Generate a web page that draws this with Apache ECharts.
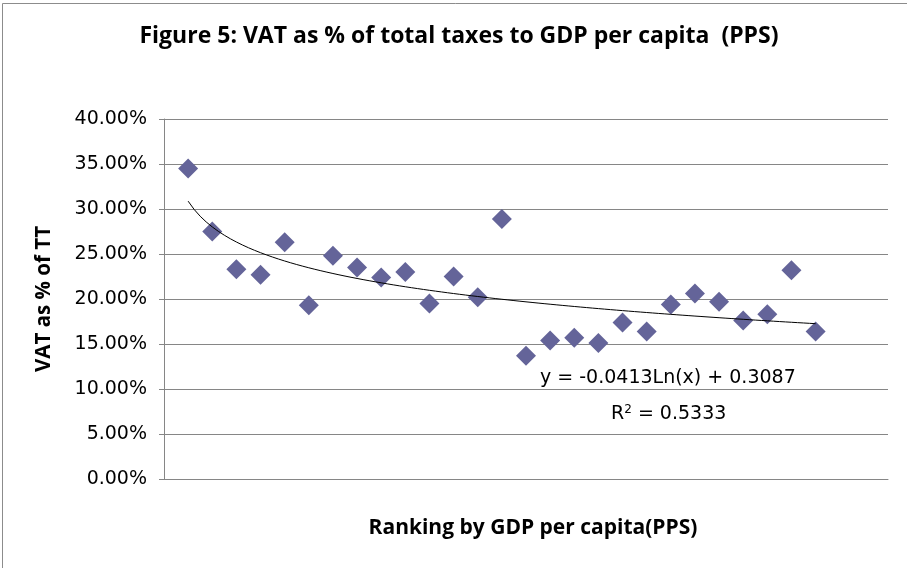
<!DOCTYPE html>
<html>
<head>
<meta charset="utf-8">
<script src="https://cdn.jsdelivr.net/npm/echarts@6/dist/echarts.min.js"></script>
<style>
  html, body { margin: 0; padding: 0; background: #fff; }
  #chart { width: 907px; height: 568px; }
</style>
</head>
<body>
<div id="chart"></div>
<script>
// Ranking positions (1 = highest GDP per capita in PPS)
const ranks = [1, 2, 3, 4, 5, 6, 7, 8, 9, 10, 11, 12, 13, 14, 15, 16, 17, 18, 19, 20, 21, 22, 23, 24, 25, 26, 27];
// VAT as share of total taxes
const vatShare = [0.345, 0.275, 0.233, 0.227, 0.263, 0.193, 0.248, 0.235, 0.224, 0.230, 0.195, 0.225, 0.202,
                  0.289, 0.137, 0.154, 0.157, 0.151, 0.174, 0.164, 0.194, 0.206, 0.197, 0.176, 0.183, 0.232, 0.164];
// Logarithmic trendline coefficients: y = a*ln(x) + b
const trendA = -0.0413;
const trendB = 0.3087;
const trendR2 = 0.5333;

const BOLD_FONT = '"Open Sans", Lato, sans-serif';
const NUM_FONT = '"DejaVu Sans", sans-serif';

const points = ranks.map((r, i) => [r, vatShare[i]]);
const trend = [];
for (let x = ranks[0]; x <= ranks[ranks.length - 1] + 1e-9; x += 0.25) {
  trend.push([x, trendA * Math.log(x) + trendB]);
}

const chart = echarts.init(document.getElementById('chart'));
chart.setOption({
  animation: false,
  backgroundColor: '#fff',
  graphic: [{
    type: 'rect', left: 0, top: 1,
    shape: { width: 906, height: 565 },
    style: { fill: 'none', stroke: '#8c8c8c', lineWidth: 1 }
  }, {
    type: 'text', left: 540, top: 369,
    style: {
      text: 'y = ' + trendA.toFixed(4) + 'Ln(x) + ' + trendB.toFixed(4),
      font: '19px ' + NUM_FONT, fill: '#000'
    }
  }, {
    type: 'text', left: 611, top: 404,
    style: {
      text: '{r|R}{s|2}{r| = ' + trendR2.toFixed(4) + '}',
      rich: {
        r: { font: '19px ' + NUM_FONT, fill: '#000', verticalAlign: 'bottom' },
        s: { font: '12px ' + NUM_FONT, fill: '#000', verticalAlign: 'top', padding: [0, 0, 8, 0] }
      }
    }
  }],
  title: {
    text: 'Figure 5: VAT as % of total taxes to GDP per capita  (PPS)',
    left: 454, top: 20, textAlign: 'center',
    textStyle: { fontFamily: BOLD_FONT, fontWeight: 'bold', fontSize: 23, color: '#000' }
  },
  grid: { left: 164, right: 19, top: 119, bottom: 89 },
  xAxis: {
    type: 'value', min: 0, max: 30, interval: 1,
    name: 'Ranking by GDP per capita(PPS)', nameLocation: 'middle', nameGap: 39,
    nameTextStyle: { fontFamily: BOLD_FONT, fontWeight: 'bold', fontSize: 21, color: '#000', padding: [0, 0, 0, 14] },
    axisLine: { show: true, lineStyle: { color: '#868686' } },
    axisTick: { show: false }, axisLabel: { show: false }, splitLine: { show: false }
  },
  yAxis: {
    type: 'value', min: 0, max: 0.40, interval: 0.05,
    name: 'VAT as % of TT', nameLocation: 'middle', nameGap: 109, nameRotate: 90,
    nameTextStyle: { fontFamily: BOLD_FONT, fontWeight: 'bold', fontSize: 20.5, color: '#000' },
    axisLine: { show: true, lineStyle: { color: '#868686' } },
    axisTick: { show: true, length: 5, inside: false, lineStyle: { color: '#868686' } },
    axisLabel: {
      fontFamily: NUM_FONT, fontSize: 19, color: '#000', margin: 17,
      formatter: v => (v * 100).toFixed(2) + '%'
    },
    splitLine: { lineStyle: { color: '#868686', width: 1 } }
  },
  series: [{
    type: 'line', data: trend, showSymbol: false, symbol: 'none', smooth: false,
    lineStyle: { color: '#000', width: 1 }, z: 3, silent: true
  }, {
    type: 'scatter', data: points, symbol: 'diamond', symbolSize: [20, 20],
    itemStyle: { color: '#646499', opacity: 1 }, z: 2
  }]
});
</script>
</body>
</html>
